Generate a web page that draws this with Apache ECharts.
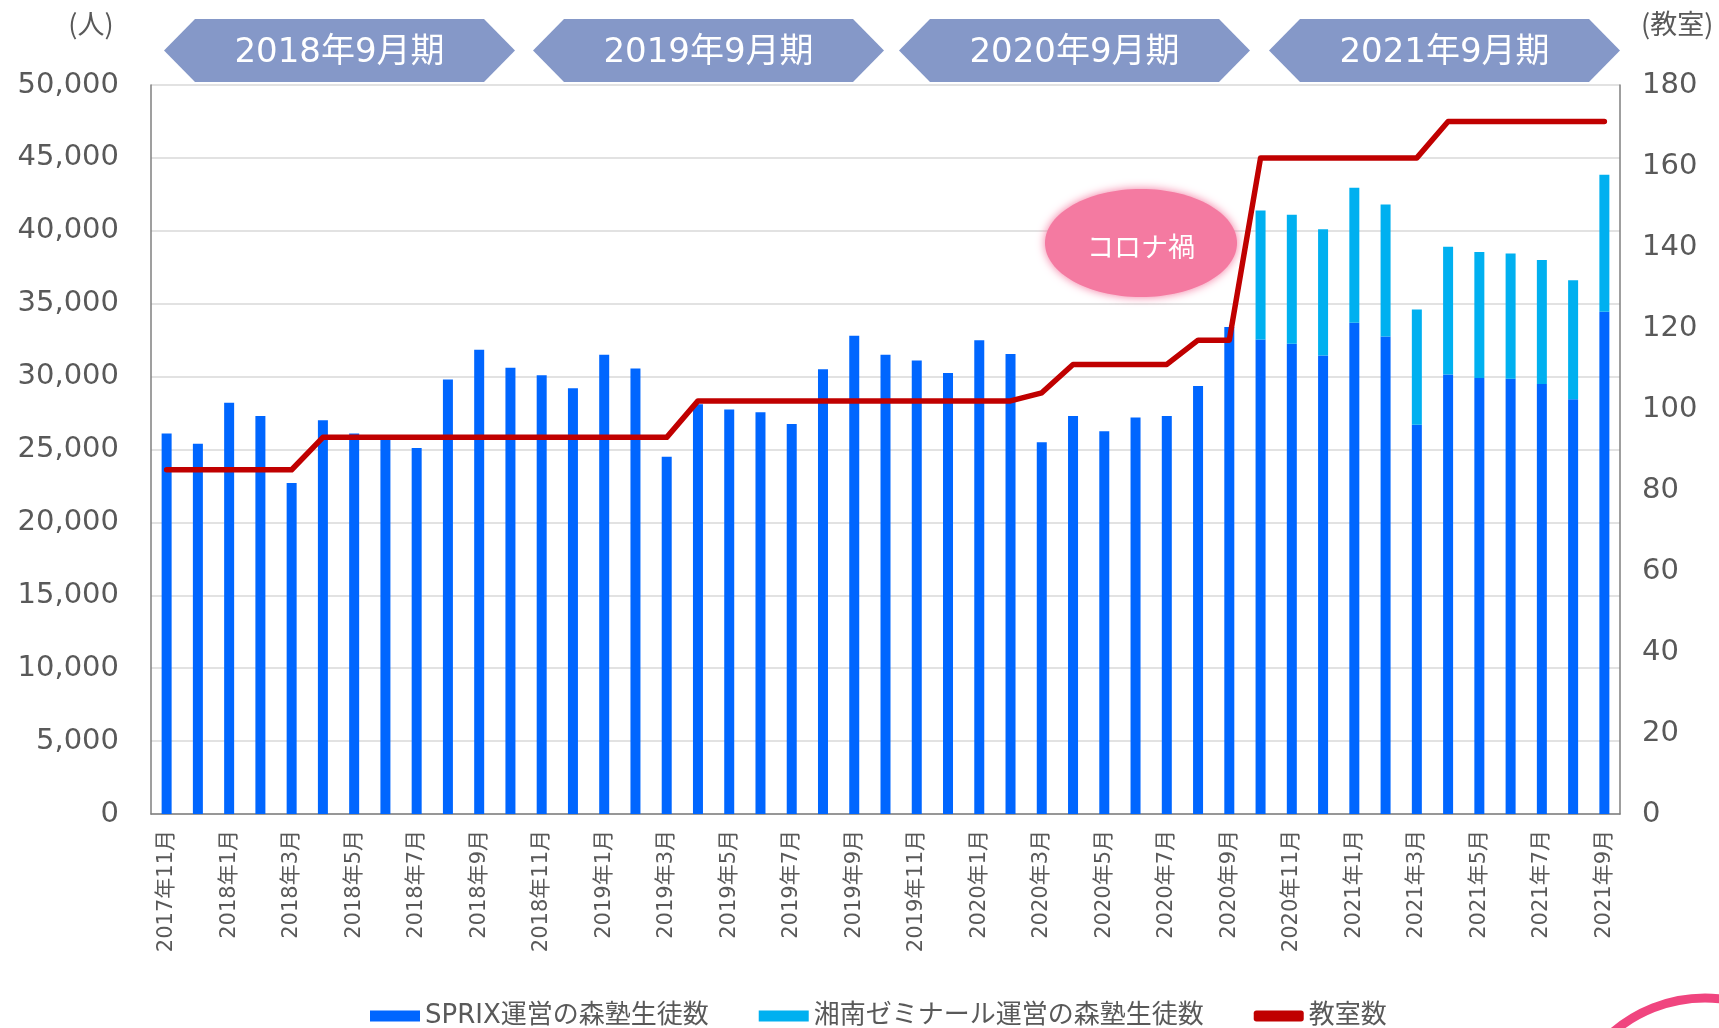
<!DOCTYPE html>
<html>
<head>
<meta charset="utf-8">
<script src="https://cdn.jsdelivr.net/npm/echarts@6/dist/echarts.min.js"></script>
<style>
  html, body { margin: 0; padding: 0; background: #fff; }
  #main { width: 1719px; height: 1028px; }
</style>
</head>
<body>
<div id="main"></div>
<script>
// 月次データ (2017年11月〜2021年9月)
const months = [
  '2017年11月', '2017年12月',
  '2018年1月', '2018年2月', '2018年3月', '2018年4月', '2018年5月', '2018年6月',
  '2018年7月', '2018年8月', '2018年9月', '2018年10月', '2018年11月', '2018年12月',
  '2019年1月', '2019年2月', '2019年3月', '2019年4月', '2019年5月', '2019年6月',
  '2019年7月', '2019年8月', '2019年9月', '2019年10月', '2019年11月', '2019年12月',
  '2020年1月', '2020年2月', '2020年3月', '2020年4月', '2020年5月', '2020年6月',
  '2020年7月', '2020年8月', '2020年9月', '2020年10月', '2020年11月', '2020年12月',
  '2021年1月', '2021年2月', '2021年3月', '2021年4月', '2021年5月', '2021年6月',
  '2021年7月', '2021年8月', '2021年9月'
];

const sprixStudents = [
  26100, 25400,
  28200, 27300, 22700, 27000, 26100, 25800, 25100, 29800, 31850, 30600, 30100, 29200,
  31500, 30550, 24500, 28100, 27750, 27550, 26750, 30500, 32800, 31500, 31100, 30250,
  32500, 31550, 25500, 27300, 26250, 27200, 27300, 29350, 33400, 32550, 32250, 31450,
  33700, 32750, 26700, 30150, 29900, 29850, 29500, 28450, 34450
];

// 湘南ゼミナール分は2020年10月から
const shonanStart = '2020年10月';
const shonanStudents = [8850, 8850, 8650, 9250, 9050, 7900, 8750, 8650, 8600, 8500, 8150, 9400];

const classrooms = [
  85, 85,
  85, 85, 85, 93, 93, 93, 93, 93, 93, 93, 93, 93,
  93, 93, 93, 102, 102, 102, 102, 102, 102, 102, 102, 102,
  102, 102, 104, 111, 111, 111, 111, 117, 117, 162, 162, 162,
  162, 162, 162, 171, 171, 171, 171, 171, 171
];

const periodLabels = ['2018年9月期', '2019年9月期', '2020年9月期', '2021年9月期'];
const studentTicks = { min: 0, max: 50000, interval: 5000 };
const classroomTicks = { min: 0, max: 180, interval: 20 };

const FONT = '"DejaVu Sans", "Noto Sans CJK JP", sans-serif';
const JP = '"Noto Sans CJK JP", sans-serif';
const GREY = '#595959';

const shonanData = months.map(function () { return '-'; });
const startIdx = months.indexOf(shonanStart);
shonanStudents.forEach(function (v, i) { shonanData[startIdx + i] = v; });

// 期バナー (六角形)
const bannerX = [164, 533, 899, 1269];
const bannerW = 351, bannerTop = 19, bannerBottom = 82, tip = 31;
const graphics = [];
periodLabels.forEach(function (label, i) {
  const x = bannerX[i], mid = (bannerTop + bannerBottom) / 2;
  graphics.push({
    type: 'polygon', z: 10,
    shape: { points: [
      [x, mid], [x + tip, bannerTop], [x + bannerW - tip, bannerTop],
      [x + bannerW, mid], [x + bannerW - tip, bannerBottom], [x + tip, bannerBottom]
    ] },
    style: { fill: '#8598c8' }
  });
  graphics.push({
    type: 'text', z: 11, x: x + bannerW / 2, y: mid + 3,
    style: { text: label, fill: '#fff', font: '34px ' + FONT, align: 'center', verticalAlign: 'middle' }
  });
});

graphics.push(
  { type: 'ellipse', z: 1, shape: { cx: 1141, cy: 243, rx: 96, ry: 54 },
    style: { fill: '#f47aa1', shadowBlur: 10, shadowColor: '#f47aa1' } },
  { type: 'text', z: 3, x: 1141, y: 247,
    style: { text: 'コロナ禍', fill: '#fff', font: '27px ' + JP, align: 'center', verticalAlign: 'middle' } },
  { type: 'text', x: 91, y: 24,
    style: { text: '(人)', fill: GREY, font: '27px ' + JP, align: 'center', verticalAlign: 'middle' } },
  { type: 'text', x: 1641, y: 24,
    style: { text: '(教室)', fill: GREY, font: '27px ' + JP, align: 'left', verticalAlign: 'middle' } },
  { type: 'circle', shape: { cx: 1705, cy: 1139, r: 141 },
    style: { fill: 'none', stroke: '#f0457f', lineWidth: 9 } }
);

const chart = echarts.init(document.getElementById('main'));
chart.setOption({
  animation: false,
  grid: { left: 151, right: 99, top: 85, bottom: 214 },
  legend: {
    left: 365, top: 998,
    itemWidth: 50, itemHeight: 11, itemGap: 50,
    textStyle: { fontSize: 26, color: GREY, fontFamily: FONT },
    data: [
      { name: 'SPRIX運営の森塾生徒数', icon: 'rect' },
      { name: '湘南ゼミナール運営の森塾生徒数', icon: 'rect' },
      { name: '教室数', icon: 'roundRect' }
    ]
  },
  xAxis: {
    type: 'category',
    data: months,
    axisTick: { show: false },
    axisLine: { lineStyle: { color: '#7f7f7f', width: 1.5 } },
    axisLabel: { rotate: 90, interval: 1, fontSize: 21, color: GREY, margin: 16, fontFamily: FONT }
  },
  yAxis: [
    {
      type: 'value',
      min: studentTicks.min, max: studentTicks.max, interval: studentTicks.interval,
      axisLine: { show: true, lineStyle: { color: '#7f7f7f', width: 1.5 } },
      splitLine: { lineStyle: { color: '#d9d9d9', width: 1.5 } },
      axisLabel: {
        fontSize: 29, color: GREY, margin: 32, fontFamily: FONT,
        formatter: function (v) { return v.toLocaleString('en-US'); }
      }
    },
    {
      type: 'value',
      min: classroomTicks.min, max: classroomTicks.max, interval: classroomTicks.interval,
      axisLine: { show: true, lineStyle: { color: '#7f7f7f', width: 1.5 } },
      splitLine: { show: false },
      axisLabel: { fontSize: 29, color: GREY, margin: 22, fontFamily: FONT }
    }
  ],
  series: [
    {
      name: 'SPRIX運営の森塾生徒数',
      type: 'bar',
      stack: 'students',
      barWidth: 10,
      data: sprixStudents,
      itemStyle: { color: '#0066ff' }
    },
    {
      name: '湘南ゼミナール運営の森塾生徒数',
      type: 'bar',
      stack: 'students',
      barWidth: 10,
      data: shonanData,
      itemStyle: { color: '#00b0f0' }
    },
    {
      name: '教室数',
      type: 'line',
      yAxisIndex: 1,
      data: classrooms,
      symbol: 'none',
      z: 5,
      itemStyle: { color: '#c00000' },
      lineStyle: { color: '#c00000', width: 5.5, cap: 'round', join: 'round' }
    }
  ],
  graphic: graphics
});
</script>
</body>
</html>
